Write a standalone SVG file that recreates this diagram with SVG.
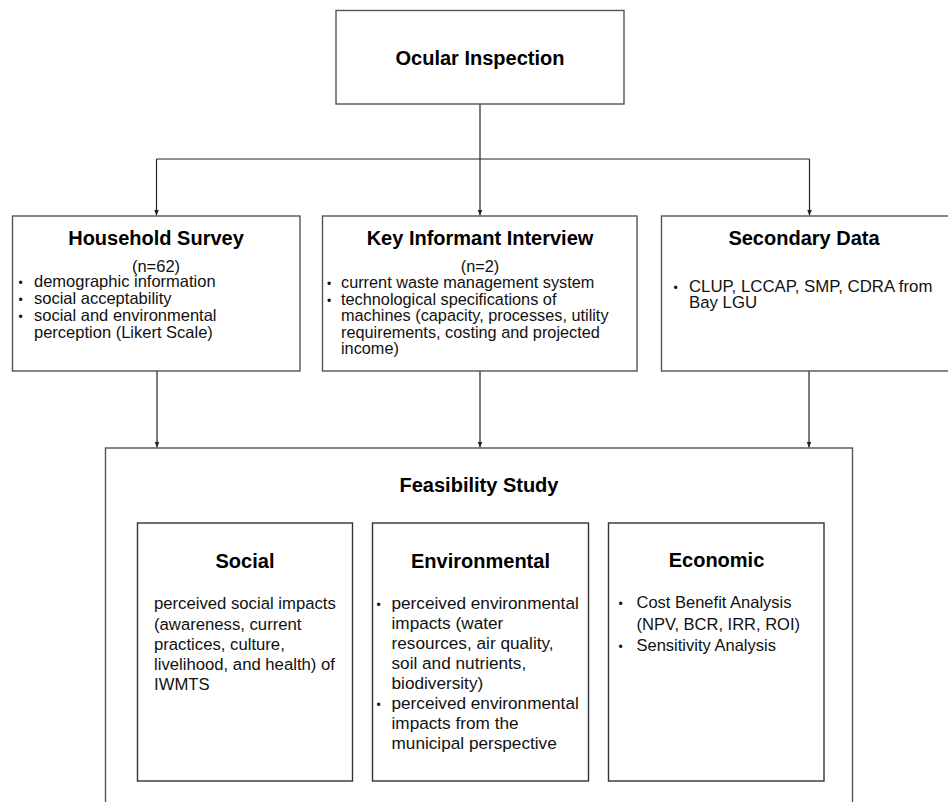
<svg xmlns="http://www.w3.org/2000/svg" width="948" height="802" viewBox="0 0 948 802">
<defs>
<style>
.box{fill:#fff;stroke:#555;stroke-width:1.4}
.inner{fill:#fff;stroke:#333;stroke-width:1.4}
.t{font-family:"Liberation Sans",Arial,sans-serif;font-weight:bold;font-size:20px;fill:#000;text-anchor:middle}
.b{font-family:"Liberation Sans",Arial,sans-serif;fill:#111}
.c{fill:none;stroke:#222;stroke-width:1.2}
</style>
<marker id="ah" viewBox="0 0 6 6" refX="6" refY="3" markerWidth="6" markerHeight="6" markerUnits="userSpaceOnUse" orient="auto">
<path d="M0,0.5 L6,3 L0,5.5 Z" fill="#222"/>
</marker>
</defs>
<g id="connectors">
<path class="c" d="M480,104 V159"/>
<path class="c" d="M156.5,159 H809.5"/>
<path class="c" d="M156.5,159 V215.5" marker-end="url(#ah)"/>
<path class="c" d="M480,159 V215.5" marker-end="url(#ah)"/>
<path class="c" d="M809.5,159 V215.5" marker-end="url(#ah)"/>
<path class="c" d="M157,371 V447.5" marker-end="url(#ah)"/>
<path class="c" d="M480,371 V447.5" marker-end="url(#ah)"/>
<path class="c" d="M809,371 V447.5" marker-end="url(#ah)"/>
</g>
<g id="ocular">
<rect class="box" x="336" y="10.5" width="288" height="93.5"/>
<text class="t" x="480" y="65">Ocular Inspection</text>
</g>
<g id="household">
<rect class="box" x="12.5" y="216" width="287.5" height="155"/>
<text class="t" x="156" y="245">Household Survey</text>
<g class="b" font-size="16.5">
<text x="156" y="272" text-anchor="middle">(n=62)</text>
<text x="18.5" y="287" font-size="12">•</text><text x="34" y="287">demographic information</text>
<text x="18.5" y="304" font-size="12">•</text><text x="34" y="304">social acceptability</text>
<text x="18.5" y="320.5" font-size="12">•</text><text x="34" y="320.5">social and environmental</text>
<text x="34" y="337.5">perception (Likert Scale)</text>
</g>
</g>
<g id="kii">
<rect class="box" x="322.5" y="216" width="314.5" height="155"/>
<text class="t" x="480" y="245">Key Informant Interview</text>
<g class="b" font-size="16.3">
<text x="480" y="272" text-anchor="middle">(n=2)</text>
<text x="327" y="288" font-size="12">•</text><text x="341" y="288">current waste management system</text>
<text x="327" y="304.5" font-size="12">•</text><text x="341" y="304.5">technological specifications of</text>
<text x="341" y="321">machines (capacity, processes, utility</text>
<text x="341" y="337.5">requirements, costing and projected</text>
<text x="341" y="354">income)</text>
</g>
</g>
<g id="secondary">
<rect class="box" x="661.5" y="216" width="300" height="155"/>
<text class="t" x="804" y="245">Secondary Data</text>
<g class="b" font-size="16.8">
<text x="673.5" y="291.5" font-size="12">•</text><text x="689" y="291.5">CLUP, LCCAP, SMP, CDRA from</text>
<text x="689" y="308">Bay LGU</text>
</g>
</g>
<g id="feasibility">
<rect class="box" x="105.5" y="448" width="747" height="370"/>
<text class="t" x="479" y="491.5">Feasibility Study</text>
</g>
<g id="social">
<rect class="inner" x="137.5" y="523" width="215" height="258"/>
<text class="t" x="245" y="568">Social</text>
<g class="b" font-size="16.7">
<text x="154" y="609">perceived social impacts</text>
<text x="154" y="629.5">(awareness, current</text>
<text x="154" y="650">practices, culture,</text>
<text x="154" y="670">livelihood, and health) of</text>
<text x="154" y="690">IWMTS</text>
</g>
</g>
<g id="environmental">
<rect class="inner" x="372.5" y="523" width="216" height="258"/>
<text class="t" x="480.5" y="568">Environmental</text>
<g class="b" font-size="17.2">
<text x="376.5" y="609" font-size="12">•</text><text x="391.5" y="609">perceived environmental</text>
<text x="391.5" y="629">impacts (water</text>
<text x="391.5" y="649">resources, air quality,</text>
<text x="391.5" y="669">soil and nutrients,</text>
<text x="391.5" y="689">biodiversity)</text>
<text x="376.5" y="709" font-size="12">•</text><text x="391.5" y="709">perceived environmental</text>
<text x="391.5" y="729">impacts from the</text>
<text x="391.5" y="749">municipal perspective</text>
</g>
</g>
<g id="economic">
<rect class="inner" x="608.5" y="523" width="215.5" height="258"/>
<text class="t" x="716.5" y="567">Economic</text>
<g class="b" font-size="16.5">
<text x="618.5" y="607.5" font-size="12">•</text><text x="636.5" y="607.5">Cost Benefit Analysis</text>
<text x="636.5" y="629.5">(NPV, BCR, IRR, ROI)</text>
<text x="618.5" y="651" font-size="12">•</text><text x="636.5" y="651">Sensitivity Analysis</text>
</g>
</g>
</svg>
